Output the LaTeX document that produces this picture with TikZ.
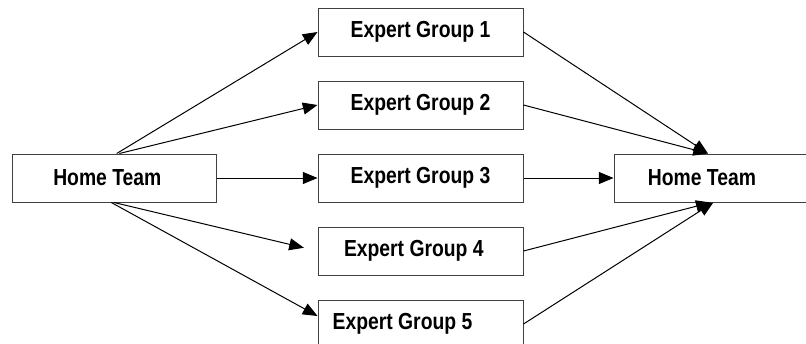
\documentclass[tikz,border=0pt]{standalone}
\usepackage{fontspec}
\setmainfont{Liberation Sans}
\usepackage{graphicx}
\usetikzlibrary{arrows.meta,positioning}
\definecolor{boxGrey}{RGB}{64,64,64}
% text a bit taller than wide, pushed left by half of the optional space
\newcommand{\tallText}[2][0pt]{\scalebox{1}[1.2]{#2}\hspace*{#1}}
\tikzset{
  teambox/.style={
    rectangle, draw=boxGrey, line width=0.75pt, inner sep=0pt,
    minimum width=153pt, minimum height=36pt,
    font=\fontsize{14.5}{17}\selectfont\bfseries},
  groupbox/.style={
    teambox, minimum width=153.75pt},
  arrowline/.style={-{Triangle[length=11pt,width=9pt]}, line width=0.75pt}
}
\begin{document}
\begin{tikzpicture}[x=0.75pt, y=-0.75pt, node distance=18pt and 75.75pt]
    \clip (0,0) rectangle (806,343);
    \node[teambox] (home) at (114,178) {\tallText[10pt]{Home Team}};
    \node[groupbox, right=of home] (eg3) {\tallText{Expert Group 3}};
    \node[groupbox, above=of eg3] (eg2) {\tallText{Expert Group 2}};
    \node[groupbox, above=of eg2] (eg1) {\tallText{Expert Group 1}};
    \node[groupbox, below=of eg3] (eg4) {\tallText[10pt]{Expert Group 4}};
    \node[groupbox, below=of eg4] (eg5) {\tallText[27pt]{Expert Group 5}};
    \node[teambox, right=67.5pt of eg3] (back) {\tallText[21pt]{Home Team}};

    % out to the expert groups
    \draw[arrowline] ([xshift=2]home.north) -- (eg1.west);
    \draw[arrowline] ([xshift=4]home.north) -- (eg2.west);
    \draw[arrowline] (home) -- (eg3);
    \draw[arrowline, shorten >=10.5pt] (home.south) -- (eg4.west);
    \draw[arrowline] ([xshift=-2]home.south) -- ([yshift=6]eg5.west);

    % back to the home team
    \draw[arrowline] (eg1.east) -- ([xshift=-6]back.north);
    \draw[arrowline] (eg2.east) -- ([xshift=-6]back.north);
    \draw[arrowline] (eg3) -- (back);
    \draw[arrowline] (eg4.east) -- ([xshift=-4]back.south);
    \draw[arrowline] (eg5.east) -- ([xshift=-2]back.south);
\end{tikzpicture}
\end{document}
